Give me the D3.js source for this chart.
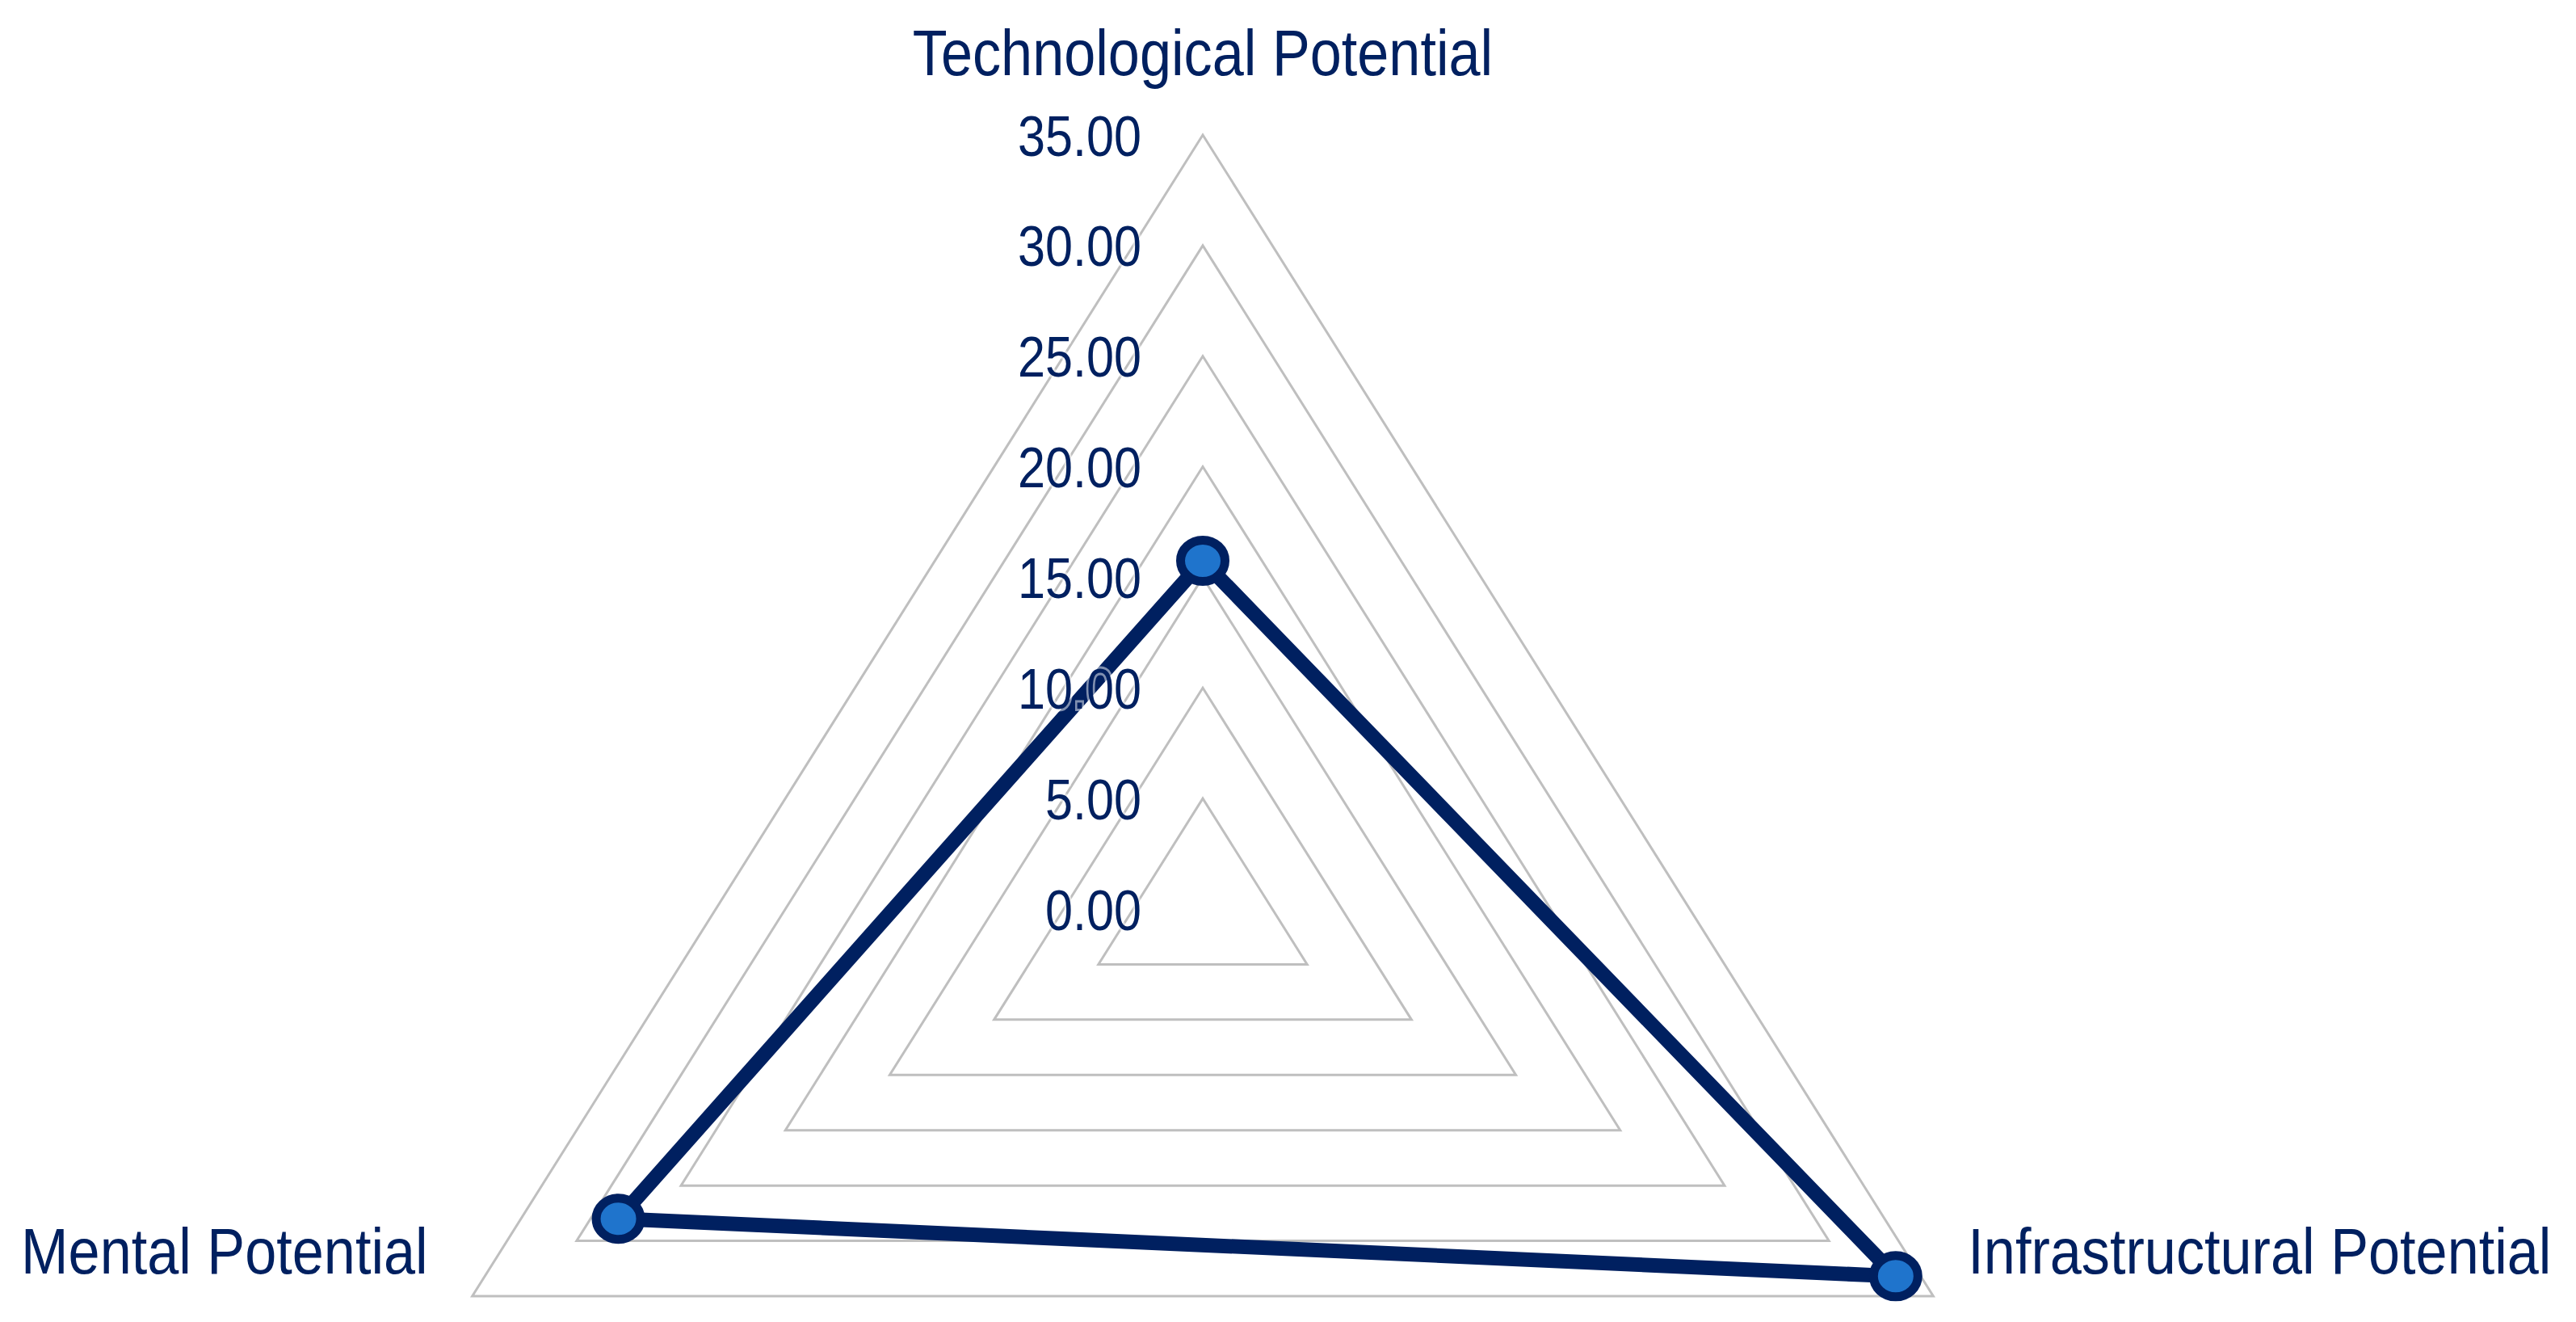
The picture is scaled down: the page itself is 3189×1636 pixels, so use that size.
<!DOCTYPE html>
<html>
<head>
<meta charset="utf-8">
<script src="https://cdn.jsdelivr.net/npm/d3@7"></script>
<style>
  body { margin: 0; background: #fff; }
  svg { display: block; }
  text { font-family: "Liberation Sans", Arial, sans-serif; fill: #002060; }
</style>
</head>
<body>
<div id="chart"></div>
<script>
// radar chart - three potentials
var categories = ["Technological Potential", "Infrastructural Potential", "Mental Potential"];
var values = [15.75, 33.2, 28.0];
var ticks = [0, 5, 10, 15, 20, 25, 30, 35];

var width = 3189, height = 1636;
var cx = 1489, cy = 1125;
var stretchX = 1.09; // plot is a little wider than tall

var svg = d3.select("#chart").append("svg")
    .attr("width", width)
    .attr("height", height);

svg.append("rect").attr("width", width).attr("height", height).attr("fill", "#fff");

// scales
var rScale = d3.scaleLinear()
    .domain([0, 35])
    .range([0, 958]);

var angle = d3.scalePoint()
    .domain(categories)
    .range([0, 2 * Math.PI * (categories.length - 1) / categories.length]);

function px(cat, v) { return cx + stretchX * rScale(v) * Math.sin(angle(cat)); }
function py(cat, v) { return cy - rScale(v) * Math.cos(angle(cat)); }

var lineGen = d3.line()
    .x(function(d){ return px(d.cat, d.v); })
    .y(function(d){ return py(d.cat, d.v); })
    .curve(d3.curveLinearClosed);

// grid rings (skip 0)
svg.append("g").selectAll(".ring")
    .data(ticks.filter(function(t){ return t > 0; }))
    .enter().append("path")
    .attr("class", "ring")
    .attr("d", function(t){
        return lineGen(categories.map(function(c){ return {cat: c, v: t}; }));
    })
    .attr("fill", "none")
    .attr("stroke", "#bfbfbf")
    .attr("stroke-width", 3);

// series
var pts = categories.map(function(c, i){ return {cat: c, v: values[i]}; });

svg.append("path")
    .attr("d", lineGen(pts))
    .attr("fill", "none")
    .attr("stroke", "#002060")
    .attr("stroke-width", 18)
    .attr("stroke-linejoin", "round");

svg.append("g").selectAll(".marker")
    .data(pts)
    .enter().append("ellipse")
    .attr("class", "marker")
    .attr("cx", function(d){ return px(d.cat, d.v); })
    .attr("cy", function(d){ return py(d.cat, d.v); })
    .attr("rx", 27.5)
    .attr("ry", 25.5)
    .attr("fill", "#1f74cc")
    .attr("stroke", "#002060")
    .attr("stroke-width", 11);

// condensed text: draw at origin then squeeze horizontally
function squeeze(sel, fx, xf, yf) {
    sel.attr("transform", function(d){
        return "translate(" + xf(d) + "," + yf(d) + ") scale(" + fx + ",1)";
    });
}

// tick labels
var fmt = d3.format(".2f");
svg.append("g").selectAll(".tick-label")
    .data(ticks)
    .enter().append("text")
    .attr("class", "tick-label")
    .attr("dy", "0.36em")
    .attr("text-anchor", "end")
    .style("font-size", "71px")
    .style("stroke", "#fff")
    .style("stroke-opacity", 0.5)
    .style("stroke-width", 6)
    .style("paint-order", "stroke")
    .text(fmt)
    .call(squeeze, 0.861,
        function(){ return cx - 76; },
        function(t){ return cy - rScale(t); });

// category labels
var catPos = {
    "Technological Potential": {dx: 0, dy: -74, anchor: "middle"},
    "Infrastructural Potential": {dx: 43, dy: -28, anchor: "start"},
    "Mental Potential": {dx: -55, dy: -28, anchor: "end"}
};

svg.append("g").selectAll(".cat-label")
    .data(categories)
    .enter().append("text")
    .attr("class", "cat-label")
    .attr("text-anchor", function(c){ return catPos[c].anchor; })
    .style("font-size", "80px")
    .text(function(c){ return c; })
    .call(squeeze, 0.878,
        function(c){ return px(c, 35) + catPos[c].dx; },
        function(c){ return py(c, 35) + catPos[c].dy; });
</script>
</body>
</html>
